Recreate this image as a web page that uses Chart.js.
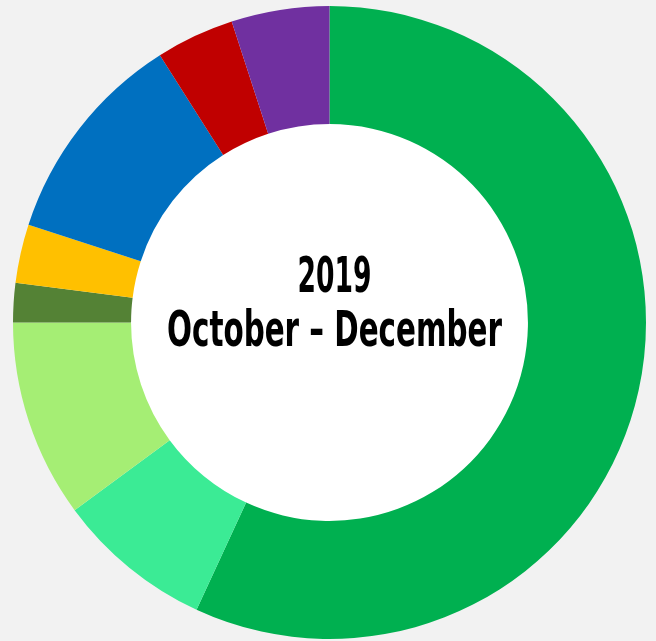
<!DOCTYPE html>
<html>
<head>
<meta charset="utf-8">
<script src="https://cdn.jsdelivr.net/npm/chart.js@4"></script>
<style>
  html, body { margin: 0; padding: 0; background: #f2f2f2; }
  #wrap { width: 656px; height: 641px; }
</style>
</head>
<body>
<div id="wrap"><canvas id="chart" width="656" height="641"></canvas></div>
<script>
'use strict'

const categories = ['Category 1', 'Category 2', 'Category 3', 'Category 4', 'Category 5', 'Category 6', 'Category 7', 'Category 8'];
const shares = [56.9, 8.0, 10.1, 2.0, 3.0, 11.0, 4.0, 5.0];
const sliceColors = ['#00b050', '#3beb95', '#a5ee74', '#548235', '#ffc000', '#0070c0', '#c00000', '#7030a0'];
const titleLines = ['2019', 'October \u2013 December'];

// white hole + centre caption, squeezed to look like the narrow font in the original
const centerText = {
  id: 'centerText',
  beforeDatasetsDraw(chart) {
    const c = chart.ctx;
    const arc = chart.getDatasetMeta(0).data[0];
    c.save();
    c.fillStyle = '#ffffff';
    c.beginPath();
    c.arc(arc.x, arc.y, arc.innerRadius + 1, 0, Math.PI * 2);
    c.fill();
    c.restore();
  },
  afterDraw(chart) {
    const c = chart.ctx;
    const arc = chart.getDatasetMeta(0).data[0];
    const cx = arc.x + 5;
    const cy = arc.y;
    c.save();
    c.fillStyle = '#000';
    c.textAlign = 'center';
    c.textBaseline = 'alphabetic';
    c.font = 'bold 50px "DejaVu Sans Condensed", "DejaVu Sans", sans-serif';
    c.fillText(titleLines[0], cx, cy - 31, 74);
    c.fillText(titleLines[1], cx, cy + 23, 335);
    c.restore();
  }
};

const ctx = document.getElementById('chart');
new Chart(ctx, {
  type: 'doughnut',
  data: {
    labels: categories,
    datasets: [{
      data: shares,
      backgroundColor: sliceColors,
      hoverBackgroundColor: sliceColors,
      borderWidth: 0
    }]
  },
  options: {
    responsive: false,
    animation: false,
    cutout: '62.7%',
    layout: {
      padding: { top: 6, bottom: 2, left: 13, right: 10 }
    },
    plugins: {
      legend: { display: false },
      tooltip: { enabled: false }
    }
  },
  plugins: [centerText]
});
</script>
</body>
</html>
